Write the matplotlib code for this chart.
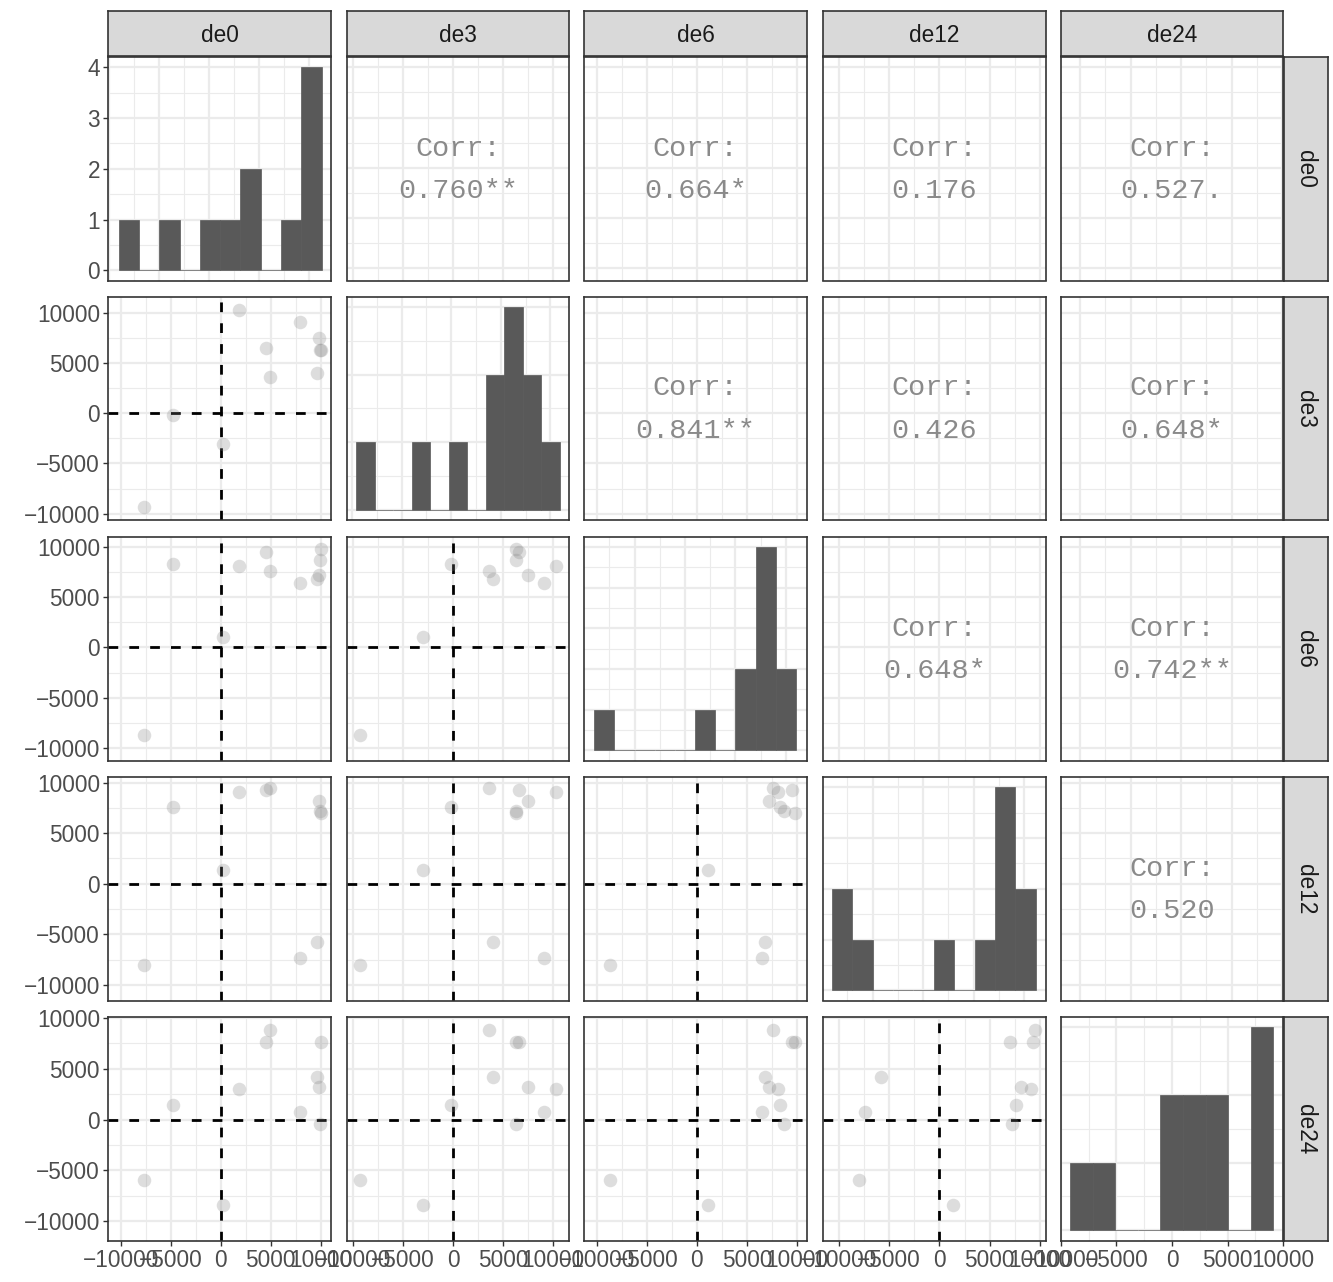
import numpy as np
import matplotlib
matplotlib.use('Agg')
import matplotlib.pyplot as plt
from matplotlib.ticker import FixedLocator, MultipleLocator, FuncFormatter

plt.rcParams['font.family'] = ['Liberation Sans', 'DejaVu Sans']

variables = ['de0', 'de3', 'de6', 'de12', 'de24']
de0 = [-7667, -4733, 200, 1867, 4533, 4933, 7933, 9667, 9833, 9933, 10000]
de3 = [-9300, -200, -3070, 10230, 6530, 3560, 9075, 3960, 7490, 6270, 6270]
de6 = [-8710, 8280, 1090, 8120, 9540, 7590, 6470, 6860, 7230, 8750, 9800]
de12 = [-8000, 7630, 1316, 9080, 9280, 9510, -7340, -5760, 8130, 7170, 6970]
de24 = [-5940, 1450, -8380, 3000, 7590, 8840, 790, 4160, 3230, -400, 7590]
data = {'de0': de0, 'de3': de3, 'de6': de6, 'de12': de12, 'de24': de24}

# upper triangle correlation labels (row, col)
corr_labels = {(0, 1): '0.760**', (0, 2): '0.664*', (0, 3): '0.176', (0, 4): '0.527.',
               (1, 2): '0.841**', (1, 3): '0.426', (1, 4): '0.648*',
               (2, 3): '0.648*', (2, 4): '0.742**',
               (3, 4): '0.520'}

# axis ranges used by the scatter panels, and by the histograms on the diagonal
scat_lims = {'de0': (-11240, 11030), 'de3': (-10650, 11600), 'de6': (-11250, 11000),
             'de12': (-11550, 10550), 'de24': (-11900, 10100)}
diag_lims = {'de0': (-10080, 12220), 'de3': (-10540, 11910), 'de6': (-9985, 12080),
             'de12': (-9900, 12120), 'de24': (-10000, 10000)}
# histogram bins: start, width, count
diag_bins = {'de0': (-9050, 2035, 10), 'de3': (-9600, 1870, 11), 'de6': (-9000, 2000, 10),
             'de12': (-9040, 2020, 10), 'de24': (-9160, 2030, 9)}
ticks = [-10000, -5000, 0, 5000, 10000]

W, H = 1333, 1282
col_left = [108.3, 346.7, 584.3, 823.0, 1060.7]
row_top = [57, 296.7, 537, 777, 1017]
pw, ph = 222.6, 223.5

fig = plt.figure(figsize=(W / 100, H / 100), dpi=100)

def px_axes(x, y, w, h):
    return fig.add_axes([x / W, 1 - (y + h) / H, w / W, h / H])

fmt = FuncFormatter(lambda v, p: ('%d' % v).replace('-', '\u2212'))
grid_col = '#EBEBEB'
frame_col = '#333333'
text_col = '#4D4D4D'
corr_col = '#8A8A8A'

n = len(variables)
for i, rv in enumerate(variables):
    for j, cv in enumerate(variables):
        ax = px_axes(col_left[j], row_top[i], pw, ph)
        ax.set_axisbelow(True)
        if i == j:
            start, width, nb = diag_bins[cv]
            edges = start + width * np.arange(nb + 1)
            counts, _, _ = ax.hist(data[cv], bins=edges, color='#595959',
                                   edgecolor='#595959', linewidth=0.5)
            top = counts.max()
            ax.set_xlim(*diag_lims[cv])
            ax.set_ylim(-0.05 * top, 1.05 * top)
            ax.yaxis.set_major_locator(MultipleLocator(1))
            ax.yaxis.set_minor_locator(MultipleLocator(0.5))
        elif i > j:
            ax.axhline(0, color='black', lw=2, linestyle=(0, (3.5, 4)), zorder=2)
            ax.axvline(0, color='black', lw=2, linestyle=(0, (3.5, 4)), zorder=2)
            ax.scatter(data[cv], data[rv], s=95, color='#7F7F7F', alpha=0.26,
                       linewidths=0, zorder=3)
            ax.set_xlim(*scat_lims[cv])
            ax.set_ylim(*scat_lims[rv])
            ax.yaxis.set_major_locator(FixedLocator(ticks))
            ax.yaxis.set_minor_locator(MultipleLocator(2500))
        else:
            ax.set_xlim(*scat_lims[cv])
            ax.set_ylim(*scat_lims[rv])
            ax.yaxis.set_major_locator(FixedLocator(ticks))
            ax.yaxis.set_minor_locator(MultipleLocator(2500))
            ax.text(0.5, 0.59, 'Corr:', transform=ax.transAxes, ha='center', va='center',
                    family='Liberation Mono', fontsize=20.5, color=corr_col)
            ax.text(0.5, 0.40, corr_labels[(i, j)], transform=ax.transAxes,
                    ha='center', va='center', family='Liberation Mono',
                    fontsize=20.5, color=corr_col)
        ax.xaxis.set_major_locator(FixedLocator(ticks))
        ax.xaxis.set_minor_locator(MultipleLocator(2500))
        ax.grid(which='major', color=grid_col, lw=1.6)
        ax.grid(which='minor', color=grid_col, lw=0.8)
        for sp in ax.spines.values():
            sp.set_color(frame_col)
            sp.set_linewidth(1.2)
        ax.tick_params(which='minor', length=0)
        ax.tick_params(which='major', length=3.5, width=1, color=frame_col,
                       labelsize=16.3, labelcolor=text_col, pad=2.5,
                       left=(j == 0), labelleft=(j == 0),
                       bottom=(i == n - 1), labelbottom=(i == n - 1))
        ax.xaxis.set_major_formatter(fmt)
        ax.yaxis.set_major_formatter(fmt)

# facet strips
for j, v in enumerate(variables):
    sa = px_axes(col_left[j], 11, pw, 45)
    sa.set_facecolor('#D9D9D9')
    sa.set_xticks([])
    sa.set_yticks([])
    for sp in sa.spines.values():
        sp.set_color(frame_col)
        sp.set_linewidth(1.2)
    sa.text(0.5, 0.46, v, ha='center', va='center', fontsize=16.3, color='#1A1A1A',
            transform=sa.transAxes)
for i, v in enumerate(variables):
    sa = px_axes(1284, row_top[i], 44, ph)
    sa.set_facecolor('#D9D9D9')
    sa.set_xticks([])
    sa.set_yticks([])
    for sp in sa.spines.values():
        sp.set_color(frame_col)
        sp.set_linewidth(1.2)
    sa.text(0.5, 0.5, v, ha='center', va='center', fontsize=16.3, color='#1A1A1A',
            rotation=270, transform=sa.transAxes)

fig.savefig('out.png', dpi=100, facecolor='white')
